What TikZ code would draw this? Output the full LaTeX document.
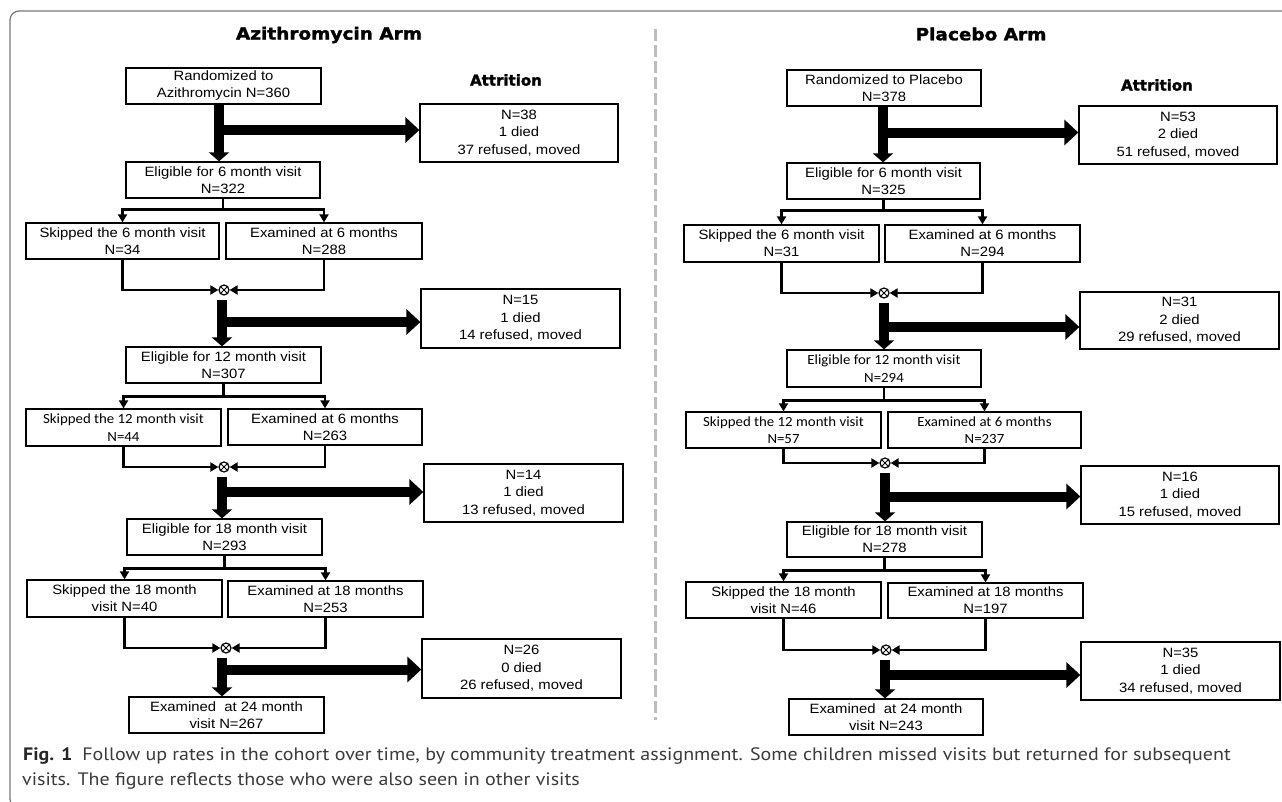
\documentclass[tikz,border=0pt]{standalone}
\usepackage{fontspec}
\usetikzlibrary{arrows.meta,calc}
\newfontfamily\arialf[FakeStretch=1.1]{Liberation Sans}
\newfontfamily\calf[FakeStretch=1.06]{Carlito}
\newfontfamily\titlef[FakeStretch=1.1,FakeBold=1.8]{DejaVu Sans}
\newfontfamily\attrf[FakeBold=1.8]{DejaVu Sans}
\newfontfamily\capf[FakeStretch=1.11]{PT Sans}
\definecolor{framegray}{HTML}{7A7A7A}
\definecolor{dashgray}{HTML}{BDBDBD}
\definecolor{captext}{HTML}{3A3A3A}
\newcommand\boxat[7]{%
  \node[#1, minimum width={#5pt-#3pt}, minimum height={#6pt-#4pt}] (#2) at ({(#3+#5)/2},{(#4+#6)/2}) {#7};}
\newcommand\mergeat[3]{%
  \node[mergec] (#1) at (#2,#3) {};
  \draw[line width=1pt] (#1.45) -- (#1.225) (#1.135) -- (#1.315);}
\begin{document}
\begin{tikzpicture}[x=1pt,y=-1pt,
  box/.style={draw, line width=1.3pt, inner sep=0pt, align=center, font=\arialf\fontsize{13.5}{17}\selectfont},
  cbox/.style={box, font=\calf\fontsize{14}{17.5}\selectfont},
  abox/.style={box, font=\arialf\fontsize{13.5}{17.5}\selectfont},
  conn/.style={line width=2.4pt},
  tip/.style={conn, -{Triangle[width=9pt,length=8pt]}},
  vstem/.style={line width=10pt, -{Triangle[width=20pt,length=9pt]}},
  hbar/.style={line width=10pt, -{Triangle[width=25pt,length=14pt]}},
  mergec/.style={circle, draw, line width=1.2pt, minimum size=10pt, inner sep=0pt},
  armtitle/.style={font=\titlef\bfseries\fontsize{16.8}{19}\selectfont, inner sep=0pt},
  attrtitle/.style={font=\attrf\bfseries\fontsize{15}{18}\selectfont, inner sep=0pt},
  captxt/.style={anchor=base west, inner sep=0pt, text=captext, font=\capf\fontsize{18}{21}\selectfont}
]
\useasboundingbox (0,0) rectangle (1282,801);
% frame and separator
\draw[framegray, line width=1.3pt, rounded corners=9pt] (1300,11) -- (10,11) -- (10,808) -- (40,808);
\draw[dashgray, line width=3pt, dash pattern=on 12pt off 4pt] (655.5,29) -- (655.5,720);

% titles
\node[armtitle] (tl) at (329,35) {Azithromycin Arm};
\node[armtitle] (tr) at (981,34) {Placebo Arm};
\node[attrtitle] (atl) at (506,80) {Attrition};
\node[attrtitle] (atr) at (1157,85) {Attrition};

% ---------------- left arm ----------------
\boxat{box}{Lr}{126}{68}{321}{104}{Randomized to\\Azithromycin N=360}
\boxat{abox}{La1}{420}{104}{618}{162}{N=38\\1 died\\37 refused, moved}
\boxat{box}{Le6}{126}{162}{320}{198}{Eligible for 6 month visit\\N=322}
\boxat{box}{Ls6}{26}{223}{219}{259}{Skipped the 6 month visit\\N=34}
\boxat{box}{Lx6}{226}{223}{422}{259}{Examined at 6 months\\N=288}
\mergeat{Lm1}{224}{290}
\boxat{abox}{La2}{421}{289}{620}{348}{N=15\\1 died\\14 refused, moved}
\boxat{box}{Le12}{126}{347}{321}{383}{Eligible for 12 month visit\\N=307}
\boxat{cbox}{Ls12}{26}{409}{221}{446}{Skipped the 12 month visit\\N=44}
\boxat{box}{Lx12}{228}{409}{422}{445}{Examined at 6 months\\N=263}
\mergeat{Lm2}{224}{467}
\boxat{abox}{La3}{424}{464}{623}{522}{N=14\\1 died\\13 refused, moved}
\boxat{box}{Le18}{127}{519}{322}{555}{Eligible for 18 month visit\\N=293}
\boxat{box}{Ls18}{27}{580}{222}{617}{Skipped the 18 month\\visit N=40}
\boxat{box}{Lx18}{228}{581}{423}{617}{Examined at 18 months\\N=253}
\mergeat{Lm3}{226}{648}
\boxat{abox}{La4}{422}{639}{621}{698}{N=26\\0 died\\26 refused, moved}
\boxat{box}{Lf24}{129}{697}{324}{733}{Examined\ \ at 24 month\\visit N=267}

% ---------------- right arm ----------------
\boxat{box}{Rr}{787}{70}{981}{106}{Randomized to Placebo\\N=378}
\boxat{abox}{Ra1}{1079}{106}{1277}{164}{N=53\\2 died\\51 refused, moved}
\boxat{box}{Re6}{787}{163}{980}{199}{Eligible for 6 month visit\\N=325}
\boxat{box}{Rs6}{684}{225}{879}{262}{Skipped the 6 month visit\\N=31}
\boxat{box}{Rx6}{885}{225}{1080}{262}{Examined at 6 months\\N=294}
\mergeat{Rm1}{884}{293}
\boxat{abox}{Ra2}{1080}{292}{1279}{349}{N=31\\2 died\\29 refused, moved}
\boxat{cbox}{Re12}{787}{350}{981}{387}{Eligible for 12 month visit\\N=294}
\boxat{cbox}{Rs12}{686}{412}{881}{448}{Skipped the 12 month visit\\N=57}
\boxat{cbox}{Rx12}{888}{412}{1081}{448}{Examined at 6 months\\N=237}
\mergeat{Rm2}{885}{463}
\boxat{abox}{Ra3}{1081}{466}{1279}{524}{N=16\\1 died\\15 refused, moved}
\boxat{box}{Re18}{787}{522}{982}{557}{Eligible for 18 month visit\\N=278}
\boxat{box}{Rs18}{686}{582}{881}{618}{Skipped the 18 month\\visit N=46}
\boxat{box}{Rx18}{888}{583}{1083}{618}{Examined at 18 months\\N=197}
\mergeat{Rm3}{886}{650}
\boxat{abox}{Ra4}{1081}{642}{1280}{700}{N=35\\1 died\\34 refused, moved}
\boxat{box}{Rf24}{789}{699}{983}{735}{Examined\ \ at 24 month\\visit N=243}

% ---------------- connectors: branches and merges ----------------
\foreach \S in {L,R}{
  \foreach \e/\s/\x/\m/\dy in {e6/s6/x6/m1/11, e12/s12/x12/m2/13, e18/s18/x18/m3/13}{
    \coordinate (\S b\e) at ([yshift=-\dy pt]\S\e.south);
    \draw[conn] (\S\e.south) -- (\S b\e);
    \draw[tip] (\S b\e) -| (\S\s.north);
    \draw[tip] (\S b\e) -| (\S\x.north);
    \draw[tip] (\S\s.south) |- (\S\m.west);
    \draw[tip] (\S\x.south) |- (\S\m.east);
  }
}

% ---------------- thick attrition arrows ----------------
% left
\coordinate (LS1) at ([xshift=-4.5pt]Lr.south);
\coordinate (LS2) at ([xshift=-2pt,yshift=-4.5pt]Lm1.south);
\coordinate (LS3) at ([xshift=-2pt,yshift=-4.5pt]Lm2.south);
\coordinate (LS4) at ([xshift=-4pt,yshift=-4.5pt]Lm3.south);
\draw[vstem] (LS1) -- (LS1 |- Le6.north);
\draw[vstem] (LS2) -- (LS2 |- Le12.north);
\draw[vstem] (LS3) -- (LS3 |- Le18.north);
\draw[vstem] (LS4) -- (LS4 |- Lf24.north);
\coordinate (LB1) at ([yshift=3pt]La1.west);
\coordinate (LB2) at ([yshift=-3.5pt]La2.west);
\coordinate (LB3) at ([yshift=1pt]La3.west);
\coordinate (LB4) at ([yshift=-1pt]La4.west);
\draw[hbar] (LS1 |- LB1) -- (LB1);
\draw[hbar] (LS2 |- LB2) -- (LB2);
\draw[hbar] (LS3 |- LB3) -- (LB3);
\draw[hbar] (LS4 |- LB4) -- (LB4);
% right
\coordinate (RS1) at ([xshift=-1pt]Rr.south);
\coordinate (RS2) at ([yshift=-4.5pt]Rm1.south);
\coordinate (RS3) at ([yshift=-4.5pt]Rm2.south);
\coordinate (RS4) at ([xshift=-1pt,yshift=-4.5pt]Rm3.south);
\draw[vstem] (RS1) -- (RS1 |- Re6.north);
\draw[vstem] (RS2) -- (RS2 |- Re12.north);
\draw[vstem] (RS3) -- (RS3 |- Re18.north);
\draw[vstem] (RS4) -- (RS4 |- Rf24.north);
\coordinate (RB1) at ([yshift=2.5pt]Ra1.west);
\coordinate (RB2) at ([yshift=-6.5pt]Ra2.west);
\coordinate (RB3) at ([yshift=-1.5pt]Ra3.west);
\coordinate (RB4) at ([yshift=-4pt]Ra4.west);
\draw[hbar] (RS1 |- RB1) -- (RB1);
\draw[hbar] (RS2 |- RB2) -- (RB2);
\draw[hbar] (RS3 |- RB3) -- (RB3);
\draw[hbar] (RS4 |- RB4) -- (RB4);

% ---------------- caption ----------------
\node[captxt] (cap1) at (23,760) {\textbf{\color{black!85}Fig. 1}\hspace{0.55em}Follow up rates in the cohort over time, by community treatment assignment. Some children missed visits but returned for subsequent};
\node[captxt] (cap2) at (22,785) {visits. The figure reflects those who were also seen in other visits};
\end{tikzpicture}
\end{document}
